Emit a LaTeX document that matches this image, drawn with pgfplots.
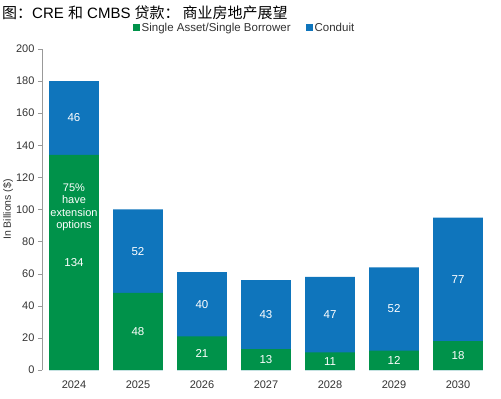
\documentclass[border=0pt]{standalone}
\usepackage{pgfplots}
\pgfplotsset{compat=1.18}
\usepackage{fontspec}
\setmainfont{Liberation Sans}
\newfontfamily\cjk{Noto Sans CJK SC}
\definecolor{cgreen}{HTML}{00924A}
\definecolor{cblue}{HTML}{0F75BC}
\definecolor{ctext}{HTML}{333333}
\definecolor{caxis}{HTML}{999999}
\begin{document}
\begin{tikzpicture}
\useasboundingbox (0,0) rectangle (501pt,399pt);
\node[anchor=west, inner sep=0pt, font=\fontsize{15}{17}\selectfont] at (2pt,386pt) {{\cjk 图：}CRE {\cjk 和} CMBS {\cjk 贷款：\hspace{0.2em}商业房地产展望}};
\begin{axis}[
  at={(42pt,29pt)}, anchor=south west, scale only axis,
  width=448pt, height=321pt,
  xmin=-0.5, xmax=6.5, ymin=0, ymax=200,
  ytick={0,20,...,200}, xtick={0,...,6},
  xticklabels={2024,2025,2026,2027,2028,2029,2030},
  axis y line*=left, axis x line*=bottom,
  x axis line style={draw=none},
  y axis line style={draw=caxis},
  ytick style={draw=caxis}, xtick style={draw=none},
  tick align=outside, major tick length=4pt,
  /pgf/number format/assume math mode=true,
  tick label style={font=\fontsize{11}{13}\selectfont, text=ctext},
  xticklabel style={yshift=-3pt},
  ylabel={In Billions (\$)},
  every axis y label/.style={at={(axis description cs:-0.0759,0.5)}, rotate=90, anchor=center, font=\fontsize{10.5}{12}\selectfont, text=ctext},
  clip=false,
  legend columns=2,
  legend style={at={(axis description cs:0.452,1.066)}, anchor=center, draw=none, fill=none,
    font=\fontsize{11.5}{13}\selectfont, text=ctext, /tikz/every even column/.append style={column sep=14pt},
    nodes={inner sep=1.5pt}},
  legend image code/.code={\fill[#1, draw=none] (-1pt,-3.5pt) rectangle (6pt,3.5pt);},
]
\addlegendimage{fill=cgreen, draw=none}
\addlegendentry{Single Asset/Single Borrower}
\addlegendimage{fill=cblue, draw=none}
\addlegendentry{Conduit}
\addplot[forget plot, ybar, bar width=0.78, bar shift=0pt, fill=cblue, draw=none] coordinates {(0,180) (1,100) (2,61) (3,56) (4,58) (5,64) (6,95)};
\addplot[forget plot, ybar, bar width=0.78, bar shift=0pt, fill=cgreen, draw=none] coordinates {(0,134) (1,48) (2,21) (3,13) (4,11) (5,12) (6,18)};
\addplot[forget plot, draw=none, mark=none, nodes near coords, point meta=explicit symbolic,
  nodes near coords style={anchor=center, text=white, font=\fontsize{11.5}{13}\selectfont}]
  coordinates {(0,67)[134] (1,24)[48] (2,10.5)[21] (3,6.5)[13] (4,5.5)[11] (5,6)[12] (6,9)[18]};
\addplot[forget plot, draw=none, mark=none, nodes near coords, point meta=explicit symbolic,
  nodes near coords style={anchor=center, text=white, font=\fontsize{11.5}{13}\selectfont}]
  coordinates {(0,157)[46] (1,74)[52] (2,41)[40] (3,34.5)[43] (4,34.5)[47] (5,38)[52] (6,56.5)[77]};
\node[align=center, text=white, font=\fontsize{11}{12.5}\selectfont, inner sep=0pt] at (axis cs:0,101.5) {75\%\\have\\extension\\options};
\end{axis}
\end{tikzpicture}
\end{document}
